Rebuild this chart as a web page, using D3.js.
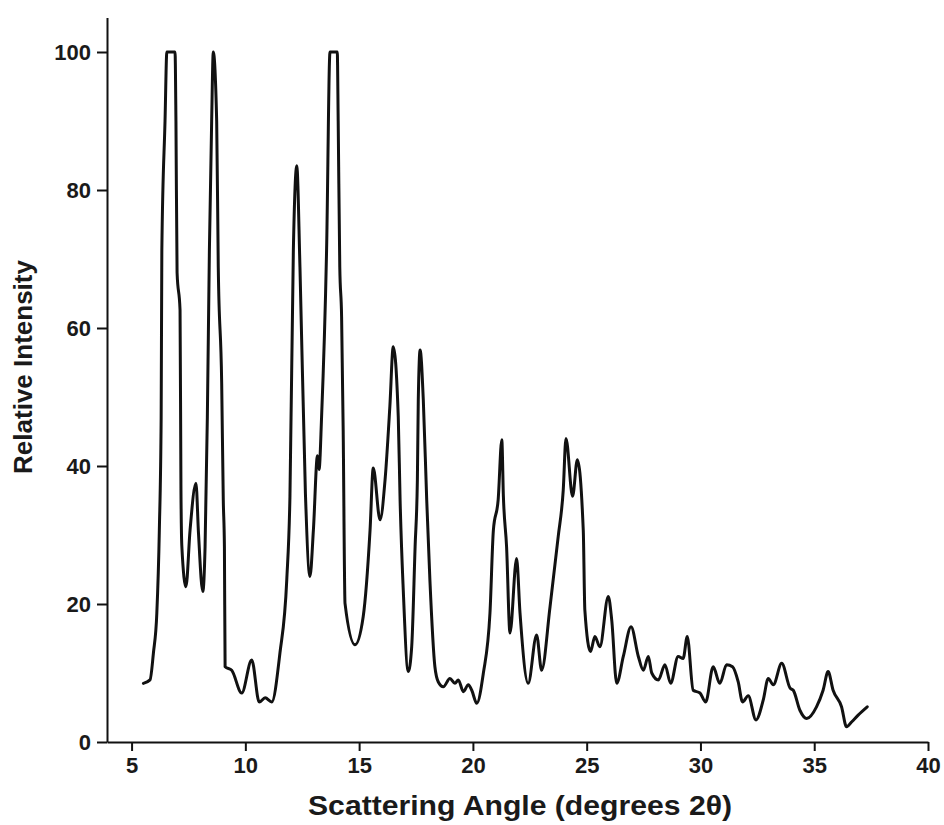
<!DOCTYPE html>
<html>
<head>
<meta charset="utf-8">
<script src="https://cdn.jsdelivr.net/npm/d3@7"></script>
<style>
html,body{margin:0;padding:0;background:#fff;}
svg text{font-family:"Liberation Sans",Arial,Helvetica,sans-serif;font-weight:bold;fill:#1a1a1a;}
</style>
</head>
<body>
<svg id="chart" width="944" height="825"></svg>
<script>
// Scattering angle (degrees 2θ)
const angles = [5.52,5.81,5.96,6.11,6.22,6.30,6.33,6.47,6.55,6.91,6.95,7.00,7.13,7.17,7.21,7.39,7.57,7.83,7.94,8.13,8.23,8.33,8.42,8.52,8.59,8.74,8.81,8.96,9.03,9.08,9.11,9.40,9.84,10.28,10.61,10.87,11.16,11.52,11.82,11.96,12.11,12.26,12.40,12.64,12.84,12.99,13.17,13.24,13.35,13.57,13.72,14.04,14.08,14.15,14.23,14.30,14.38,14.82,15.18,15.48,15.62,15.92,16.14,16.35,16.50,16.72,16.80,16.94,17.16,17.31,17.46,17.56,17.60,17.68,17.82,17.97,18.11,18.33,18.48,18.70,18.99,19.21,19.36,19.58,19.80,19.95,20.17,20.46,20.75,20.90,21.11,21.27,21.34,21.48,21.63,21.92,22.07,22.43,22.80,23.02,23.39,23.75,23.97,24.09,24.38,24.59,24.85,24.92,25.17,25.36,25.58,25.95,26.10,26.32,26.61,26.95,27.27,27.49,27.71,27.86,28.15,28.44,28.69,29.02,29.24,29.42,29.68,29.98,30.23,30.56,30.85,31.15,31.41,31.66,31.85,32.10,32.44,32.76,32.98,33.20,33.57,33.94,34.08,34.37,34.67,35.10,35.39,35.61,35.83,36.20,36.42,36.64,36.93,37.33];
// Relative intensity
const intensity = [8.5,9.0,12.9,18.7,30.7,47.1,71.3,90,100,100,90,68,62.6,36.5,28.3,22.5,30.7,37.5,30.3,21.8,28.3,47.1,71.3,90.1,100,90,68.8,52,35.1,28.3,10.9,10.4,7.1,11.9,5.8,6.4,5.8,12.9,23.5,35.6,71.3,83.5,68.8,36,24,30.7,41.5,39.5,47.1,71.3,100,100,90,68.8,61.6,45,20.1,14.1,18.2,30.7,39.7,32.2,38,48.6,57.3,47.1,35.1,22,10.2,13.8,28.3,38,49.6,56.8,49.6,35.1,23.5,10.9,8.7,8,9.2,8.5,9,7.3,8.3,7.5,5.6,10,18.7,30.7,35.1,43.8,35.6,28.3,15.8,26.6,18.7,8.5,15.5,10.4,19.6,29.8,36.5,44,35.6,40.9,30.7,19.1,13.1,15.3,13.8,21.1,17.7,8.5,12.4,16.7,12.4,10.4,12.4,10,9,11.2,8.5,12.4,12.1,15.3,7.5,7.1,5.8,10.9,8.5,11.2,10.9,8.7,5.8,6.7,3.2,6.1,9.2,8.3,11.4,7.8,7.5,4.6,3.4,5.1,7.5,10.2,7.5,5.1,2.2,2.9,3.9,5.1];
const xTicks = [5,10,15,20,25,30,35,40];
const yTicks = [0,20,40,60,80,100];
const xTitle = "Scattering Angle (degrees 2\u03B8)";
const yTitle = "Relative Intensity";

const svg = d3.select("#chart");
const x = d3.scaleLinear().domain([3.92, 40]).range([107, 928]);
const y = d3.scaleLinear().domain([0, 105]).range([742, 17.5]);

const data = angles.map((a, i) => ({a, v: intensity[i]}));

// axes
const xAxis = svg.append("g").attr("transform", "translate(0,742)")
  .call(d3.axisBottom(x).tickValues(xTicks).tickSizeInner(9).tickSizeOuter(0).tickPadding(6));
xAxis.select(".domain").attr("stroke", "#111").attr("stroke-width", 2);
xAxis.selectAll(".tick line").attr("stroke", "#111").attr("stroke-width", 2);
xAxis.selectAll(".tick text").style("font-size", "22px").attr("fill", "#1a1a1a");

const yAxis = svg.append("g").attr("transform", "translate(107,0)")
  .call(d3.axisLeft(y).tickValues(yTicks).tickSizeInner(10).tickSizeOuter(0).tickPadding(6));
yAxis.select(".domain").attr("stroke", "#111").attr("stroke-width", 2);
yAxis.selectAll(".tick line").attr("stroke", "#111").attr("stroke-width", 2);
yAxis.selectAll(".tick text").style("font-size", "22px").attr("fill", "#1a1a1a");

// pattern
svg.append("path").datum(data)
  .attr("fill", "none").attr("stroke", "#111").attr("stroke-width", 3)
  .attr("stroke-linejoin", "round").attr("stroke-linecap", "round")
  .attr("d", d3.line().curve(d3.curveMonotoneX).x(d => x(d.a)).y(d => y(d.v)));

// titles
svg.append("text").attr("x", 520).attr("y", 815).attr("text-anchor", "middle")
  .attr("textLength", 424).attr("lengthAdjust", "spacingAndGlyphs")
  .style("font-size", "28px").text(xTitle);
svg.append("text").attr("transform", "translate(32,367) rotate(-90)").attr("text-anchor", "middle")
  .style("font-size", "26px").text(yTitle);
</script>
</body>
</html>
